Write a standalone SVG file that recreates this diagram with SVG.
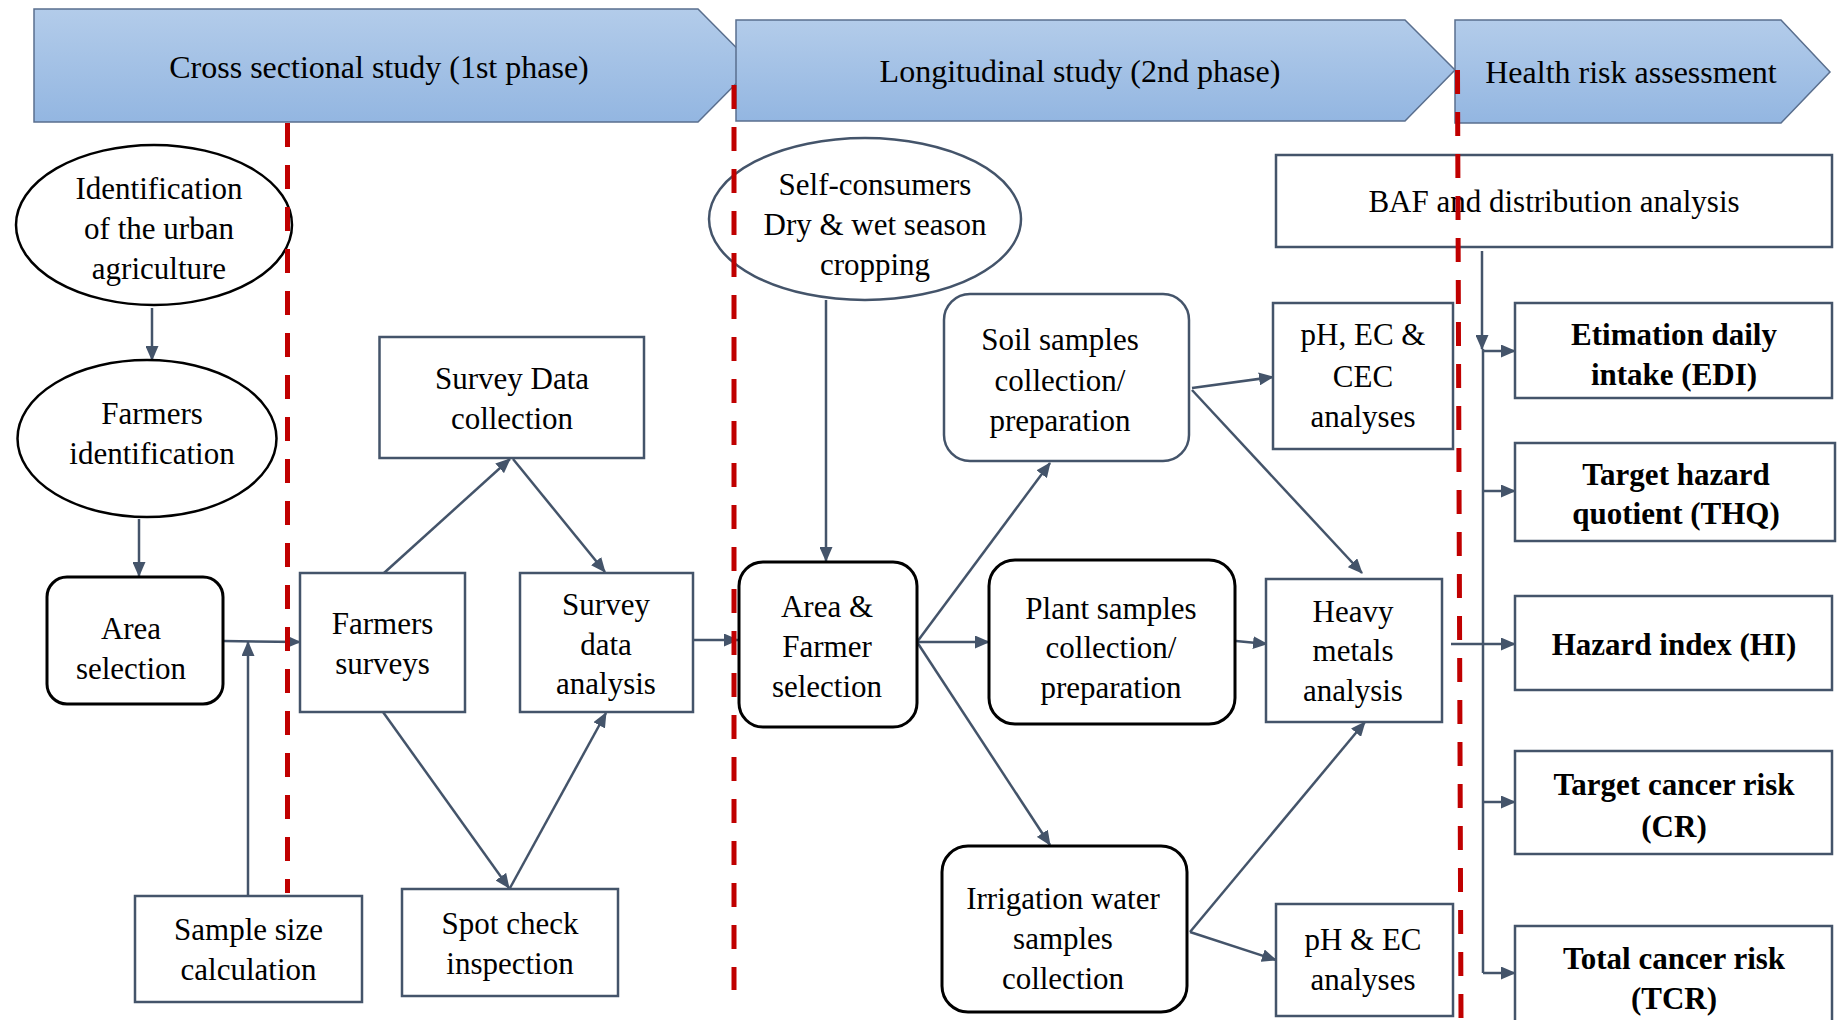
<svg xmlns="http://www.w3.org/2000/svg" width="1837" height="1020" viewBox="0 0 1837 1020">
<defs>
<linearGradient id="bg" x1="0" y1="0" x2="0" y2="1">
<stop offset="0" stop-color="#B3CCEA"/>
<stop offset="1" stop-color="#93B6E1"/>
</linearGradient>
<marker id="ah" viewBox="0 0 15 13" refX="14" refY="6.5" markerWidth="15" markerHeight="13" markerUnits="userSpaceOnUse" orient="auto">
<path d="M0,0 L15,6.5 L0,13 z" fill="#44546A"/>
</marker>
</defs>
<style>
.banner{fill:url(#bg);stroke:#5A6F8E;stroke-width:1.5}
.t{font-family:"Liberation Serif","Times New Roman",serif;font-size:31px;fill:#000;text-anchor:middle}
.tb{font-family:"Liberation Serif","Times New Roman",serif;font-size:31px;font-weight:bold;fill:#000;text-anchor:middle}
.hd{font-family:"Liberation Serif","Times New Roman",serif;font-size:32px;fill:#000;text-anchor:middle}
.box{fill:#fff;stroke:#44546A;stroke-width:2.5}
.rbk{fill:#fff;stroke:#000;stroke-width:3}
.elk{fill:#fff;stroke:#000;stroke-width:2.5}
.els{fill:#fff;stroke:#44546A;stroke-width:2.5}
.c{fill:none;stroke:#44546A;stroke-width:2.5}
.ca{fill:none;stroke:#44546A;stroke-width:2.5;marker-end:url(#ah)}
.red{fill:none;stroke:#C00000;stroke-width:5;stroke-dasharray:24 18}
</style>

<g id="banners">
<g id="banner1"><path class="banner" d="M34,9 L698,9 L754,65.5 L698,122 L34,122 Z"/><text class="hd" x="379" y="78">Cross sectional study (1st phase)</text></g>
<g id="banner2"><path class="banner" d="M736,20 L1405,20 L1455,70 L1405,121 L736,121 Z"/><text class="hd" x="1080" y="82">Longitudinal study (2nd phase)</text></g>
<g id="banner3"><path class="banner" d="M1455,20 L1781,20 L1830,72 L1781,123 L1455,123 Z"/><text class="hd" x="1631" y="83">Health risk assessment</text></g>
</g>

<g id="connectors">
<line class="ca" x1="152" y1="308" x2="152" y2="360"/>
<line class="ca" x1="139" y1="519" x2="139" y2="576"/>
<line class="ca" x1="223" y1="641" x2="300" y2="642"/>
<line class="ca" x1="248" y1="896" x2="248" y2="642"/>
<line class="ca" x1="384" y1="573" x2="510" y2="459"/>
<line class="ca" x1="513" y1="459" x2="605" y2="572"/>
<line class="ca" x1="383" y1="712" x2="509" y2="888"/>
<line class="ca" x1="510" y1="888" x2="606" y2="713"/>
<line class="ca" x1="693" y1="640" x2="738" y2="640"/>
<line class="ca" x1="826" y1="300" x2="826" y2="561"/>
<line class="ca" x1="917" y1="642" x2="1050" y2="463"/>
<line class="ca" x1="917" y1="642" x2="989" y2="642"/>
<line class="ca" x1="917" y1="642" x2="1050" y2="845"/>
<line class="ca" x1="1192" y1="388" x2="1273" y2="377"/>
<line class="ca" x1="1192" y1="390" x2="1362" y2="573"/>
<line class="ca" x1="1236" y1="641" x2="1267" y2="644"/>
<line class="ca" x1="1190" y1="932" x2="1365" y2="722"/>
<line class="ca" x1="1190" y1="932" x2="1276" y2="960"/>
<line class="ca" x1="1482" y1="251" x2="1482" y2="349"/>
<line class="c" x1="1483" y1="349" x2="1483" y2="973"/>
<line class="ca" x1="1483" y1="351" x2="1515" y2="351"/>
<line class="ca" x1="1483" y1="491" x2="1515" y2="491"/>
<line class="ca" x1="1451" y1="644" x2="1515" y2="644"/>
<line class="ca" x1="1483" y1="802" x2="1515" y2="802"/>
<line class="ca" x1="1483" y1="973" x2="1515" y2="973"/>
</g>

<g id="n-ident-urban"><ellipse class="elk" cx="154" cy="225" rx="138" ry="80"/>
<text class="t"><tspan x="159" y="199">Identification</tspan><tspan x="159" y="239">of the urban</tspan><tspan x="159" y="279">agriculture</tspan></text></g>
<g id="n-farmers-ident"><ellipse class="elk" cx="147" cy="438.5" rx="129.5" ry="78.5"/>
<text class="t"><tspan x="152" y="424">Farmers</tspan><tspan x="152" y="464">identification</tspan></text></g>
<g id="n-area-selection"><rect class="rbk" x="47" y="577" width="176" height="127" rx="20"/>
<text class="t"><tspan x="131" y="639">Area</tspan><tspan x="131" y="679">selection</tspan></text></g>
<g id="n-farmers-surveys"><rect class="box" x="300" y="573" width="165" height="139"/>
<text class="t"><tspan x="382.5" y="634">Farmers</tspan><tspan x="382.5" y="674">surveys</tspan></text></g>
<g id="n-survey-collection"><rect class="box" x="379.5" y="337" width="264.5" height="121"/>
<text class="t"><tspan x="512" y="389">Survey Data</tspan><tspan x="512" y="429">collection</tspan></text></g>
<g id="n-survey-analysis"><rect class="box" x="520" y="573" width="173" height="139"/>
<text class="t"><tspan x="606" y="615">Survey</tspan><tspan x="606" y="655">data</tspan><tspan x="606" y="694">analysis</tspan></text></g>
<g id="n-sample-size"><rect class="box" x="135" y="896" width="227" height="106"/>
<text class="t"><tspan x="248.5" y="940">Sample size</tspan><tspan x="248.5" y="980">calculation</tspan></text></g>
<g id="n-spot-check"><rect class="box" x="402" y="889" width="216" height="107"/>
<text class="t"><tspan x="510" y="934">Spot check</tspan><tspan x="510" y="974">inspection</tspan></text></g>

<g id="n-self-consumers"><ellipse class="els" cx="865" cy="219" rx="156" ry="81"/>
<text class="t"><tspan x="875" y="195">Self-consumers</tspan><tspan x="875" y="235">Dry &amp; wet season</tspan><tspan x="875" y="275">cropping</tspan></text></g>
<g id="n-area-farmer"><rect class="rbk" x="739" y="562" width="178" height="165" rx="24"/>
<text class="t"><tspan x="827" y="617">Area &amp;</tspan><tspan x="827" y="657">Farmer</tspan><tspan x="827" y="697">selection</tspan></text></g>
<g id="n-soil"><rect class="els" x="944" y="294" width="245" height="167" rx="26"/>
<text class="t"><tspan x="1060" y="350">Soil samples</tspan><tspan x="1060" y="391">collection/</tspan><tspan x="1060" y="431">preparation</tspan></text></g>
<g id="n-plant"><rect class="rbk" x="989" y="560" width="246" height="164" rx="26"/>
<text class="t"><tspan x="1111" y="619">Plant samples</tspan><tspan x="1111" y="658">collection/</tspan><tspan x="1111" y="698">preparation</tspan></text></g>
<g id="n-irrigation"><rect class="rbk" x="942" y="846" width="245" height="166" rx="26"/>
<text class="t"><tspan x="1063" y="909">Irrigation water</tspan><tspan x="1063" y="949">samples</tspan><tspan x="1063" y="989">collection</tspan></text></g>
<g id="n-ph-ec-cec"><rect class="box" x="1273" y="303" width="180" height="146"/>
<text class="t"><tspan x="1363" y="345">pH, EC &amp;</tspan><tspan x="1363" y="387">CEC</tspan><tspan x="1363" y="427">analyses</tspan></text></g>
<g id="n-heavy-metals"><rect class="box" x="1266" y="579" width="176" height="143"/>
<text class="t"><tspan x="1353" y="622">Heavy</tspan><tspan x="1353" y="661">metals</tspan><tspan x="1353" y="701">analysis</tspan></text></g>
<g id="n-ph-ec"><rect class="box" x="1276" y="904" width="177" height="112"/>
<text class="t"><tspan x="1363" y="950">pH &amp; EC</tspan><tspan x="1363" y="990">analyses</tspan></text></g>

<g id="n-baf"><rect class="box" x="1276" y="155" width="556" height="92"/>
<text class="t" x="1554" y="212">BAF and distribution analysis</text></g>
<g id="n-edi"><rect class="box" x="1515" y="303" width="317" height="95"/>
<text class="tb"><tspan x="1674" y="345">Etimation daily</tspan><tspan x="1674" y="385">intake (EDI)</tspan></text></g>
<g id="n-thq"><rect class="box" x="1515" y="443" width="320" height="98"/>
<text class="tb"><tspan x="1676" y="485">Target hazard</tspan><tspan x="1676" y="524">quotient (THQ)</tspan></text></g>
<g id="n-hi"><rect class="box" x="1515" y="596" width="317" height="94"/>
<text class="tb" x="1674" y="655">Hazard index (HI)</text></g>
<g id="n-cr"><rect class="box" x="1515" y="751" width="317" height="103"/>
<text class="tb"><tspan x="1674" y="795">Target cancer risk</tspan><tspan x="1674" y="837">(CR)</tspan></text></g>
<g id="n-tcr"><rect class="box" x="1515" y="926" width="317" height="96"/>
<text class="tb"><tspan x="1674" y="969">Total cancer risk</tspan><tspan x="1674" y="1009">(TCR)</tspan></text></g>

<g id="phase-dividers">
<line class="red" x1="287.5" y1="123" x2="287.5" y2="893"/>
<line class="red" x1="734" y1="85" x2="734" y2="990"/>
<line class="red" x1="1457.5" y1="70" x2="1461" y2="1018"/>
</g>
</svg>
